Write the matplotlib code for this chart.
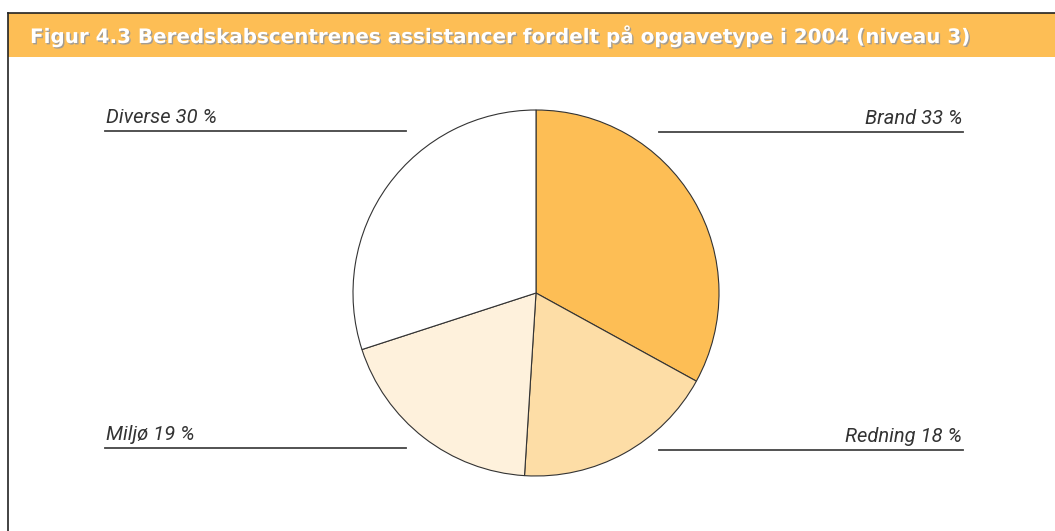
import matplotlib
matplotlib.use("Agg")
import matplotlib.pyplot as plt
import matplotlib.patheffects as pe
from matplotlib.patches import Rectangle

# data
categories = ["Brand", "Redning", "Miljø", "Diverse"]
shares = [33, 18, 19, 30]
colors = ["#FDBE55", "#FDDDA6", "#FEF1DC", "#FFFFFF"]
title = "Figur 4.3 Beredskabscentrenes assistancer fordelt på opgavetype i 2004 (niveau 3)"

W, H = 1055, 531
fig = plt.figure(figsize=(W / 100, H / 100), dpi=100)
ax = fig.add_axes([0, 0, 1, 1])

def Y(y):
    # pixel row -> data y (origin bottom)
    return H - y

# pie
ax.pie(shares, colors=colors, startangle=90, counterclock=False,
       center=(536, Y(293)), radius=183,
       wedgeprops=dict(edgecolor="#333333", linewidth=0.8))

ax.set_xlim(0, W)
ax.set_ylim(0, H)
ax.set_aspect("auto")
ax.axis("off")

# frame + title bar
ax.add_patch(Rectangle((8, Y(57)), W, 44, facecolor="#FDBE55", edgecolor="none"))
ax.plot([8, W], [Y(13), Y(13)], color="#222222", lw=1.2)
ax.plot([8, 8], [Y(13), 0], color="#222222", lw=1.2)

t = ax.text(30, Y(36), title, color="white", fontsize=15, fontweight="bold",
            family="DejaVu Sans", va="center", ha="left",
            path_effects=[pe.withSimplePatchShadow(offset=(1, -1), shadow_rgbFace="#999999", alpha=0.9)])

# fit title width to reference (~943 px)
fig.canvas.draw()
w = t.get_window_extent().width
t.set_fontsize(15 * 943 / w)

# labels: side and line row
label_pos = {
    "Diverse": ("left", 131),
    "Brand": ("right", 132),
    "Miljø": ("left", 448),
    "Redning": ("right", 450),
}
for cat, val in zip(categories, shares):
    side, ly = label_pos[cat]
    if side == "left":
        x0, x1, tx, ha = 105, 406, 106, "left"
    else:
        x0, x1, tx, ha = 659, 963, 962, "right"
    ax.plot([x0, x1], [Y(ly), Y(ly)], color="#444444", lw=1.3)
    ax.text(tx, Y(ly - 4), f"{cat} {val} %", ha=ha, va="bottom", fontsize=14.5,
            style="italic", family="Roboto", color="#333333")

fig.savefig("out.png", dpi=100)
